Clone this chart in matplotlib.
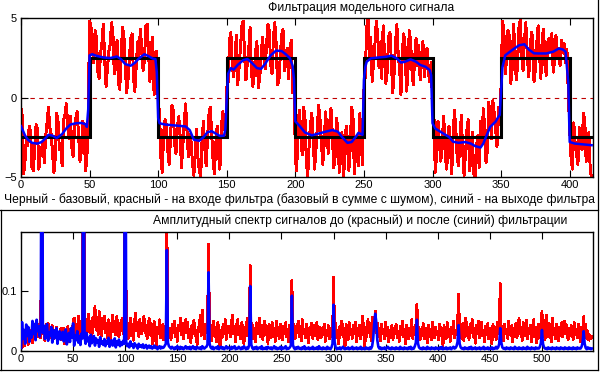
import matplotlib
matplotlib.use("Agg")
import matplotlib.pyplot as plt
from matplotlib.lines import Line2D

# ---------------- data: top panel ----------------
base_edges = [0, 50, 100, 150, 200, 250, 300, 350, 400, 417]
base_levels = [-2.5, 2.5, -2.5, 2.5, -2.5, 2.5, -2.5, 2.5, -2.5]

noisy = [
    # 0-49
    -0.7, -1.2, -4.8, -3.9, -2.6, -3.0, -1.8, -2.2, -4.4, -4.6, -3.1, -1.7, -2.0, -4.5, -3.6, -3.2, -2.8, -4.1, -2.4, -1.6,
    -0.6, -1.9, -2.3, -3.5, -4.7, -3.8, -1.0, -1.5, -3.3, -2.9, -4.3, -1.4, -1.1, -0.4, -1.6, -2.6, -1.2, -3.1, -3.7, -2.0,
    -1.3, -0.9, -2.5, -4.0, -3.4, -1.5, -1.8, -4.6, -3.9, -1.0,
    # 50-99
    4.8, 4.5, 3.0, 2.2, 4.2, 3.8, 1.6, 1.2, 2.8, 3.4, 4.6, 2.4, 0.7, 1.8, 2.9, 3.3, 4.7, 4.1, 1.5, 2.0,
    3.6, 0.9, 0.5, 2.7, 4.4, 3.9, 2.1, 0.3, 1.1, 2.5, 3.7, 4.0, 1.3, 0.4, 1.9, 3.5, 2.6, 4.3, 3.1, 1.7,
    2.3, 4.5, 4.6, 2.8, 1.0, 3.2, 3.8, 0.2, 1.4, 2.9,
    # 100-149
    -0.3, -0.9, -3.8, -4.7, -2.2, -1.4, -1.7, -3.3, -4.2, -2.6, -0.5, -0.8, -2.9, -3.5, -1.9, -1.2, -2.4, -4.4, -3.0, -1.6,
    -0.4, -2.1, -3.7, -2.3, -2.8, -4.1, -4.9, -3.4, -2.0, -3.8, -4.6, -5.0, -2.7, -1.5, -3.2, -4.3, -2.5, -1.1, -0.6, -2.2,
    -3.9, -4.8, -2.9, -1.8, -3.6, -4.5, -2.0, -0.9, -1.3, -2.4,
    # 150-199
    0.6, 1.0, 3.6, 4.1, 2.0, 1.3, 2.5, 3.9, 0.8, 1.9, 3.2, 4.5, 4.8, 2.6, 1.1, 2.2, 3.0, 4.4, 1.6, 0.7,
    1.4, 2.9, 3.5, 0.6, 1.2, 2.4, 3.8, 2.7, 1.8, 3.3, 4.6, 4.2, 2.1, 1.5, 3.7, 4.7, 3.4, 0.8, 1.0, 2.6,
    3.9, 4.3, 1.7, 2.3, 3.1, 1.2, 2.8, 3.6, 0.3, 1.9,
    # 200-249
    -3.9, -4.6, -1.5, -0.8, -2.3, -3.6, -0.6, -1.2, -4.0, -5.0, -3.1, -1.7, -1.0, -2.6, -4.5, -3.3, -1.9, -0.5, -1.4, -2.8,
    -4.2, -3.0, -0.9, -2.1, -3.5, -1.6, -0.7, -2.4, -4.4, -3.7, -1.3, -2.0, -4.7, -3.9, -2.2, -4.9, -4.1, -1.8, -2.7, -4.6,
    -3.2, -0.6, -1.1, -4.8, -3.4, -2.5, -4.3, -1.0, -2.9, -4.2,
    # 250-299
    0.5, 1.4, 4.4, 4.9, 2.6, 3.8, 1.0, 2.2, 3.3, 4.8, 4.0, 1.9, 3.5, 1.2, 4.5, 2.8, 0.9, 1.6, 3.8, 4.1,
    2.3, 0.3, 1.5, 3.4, 4.6, 2.7, 1.8, 0.2, 2.9, 4.0, 3.2, 0.4, 1.3, 4.2, 3.6, 1.7, 0.8, 2.5, 3.7, 2.0,
    3.3, 1.1, 2.4, 3.5, 1.3, 2.1, 3.1, 1.6, 1.0, 2.2,
    # 300-349
    -0.4, -1.0, -4.7, -3.6, -1.5, -2.8, -4.0, -3.2, -1.2, -2.3, -4.5, -3.9, -1.8, -3.0, -4.8, -2.5, -0.8, -2.0, -3.8, -4.3,
    -2.7, -1.1, -3.4, -4.9, -3.6, -2.1, -1.4, -4.6, -3.9, -2.2, -4.8, -5.0, -3.1, -2.4, -4.4, -1.5, -2.9, -0.7, -1.8, -4.1,
    -3.3, -0.3, -1.2, -2.6, -0.2, -1.0, -2.0, -3.1, -0.6, -1.7,
    # 350-399
    0.8, 4.8, 4.3, 1.5, 2.4, 4.2, 3.9, 0.9, 1.7, 4.6, 3.3, 1.1, 2.0, 4.4, 4.9, 2.8, 1.7, 3.6, 4.7, 3.0,
    1.3, 2.2, 4.1, 3.8, 1.0, 1.8, 3.4, 4.5, 2.7, 1.2, 3.9, 4.3, 2.0, 1.4, 3.5, 3.7, 2.9, 4.0, 1.6, 2.3,
    3.9, 2.6, 3.1, 2.0, 3.6, 2.8, 3.4, 2.2, 3.0, 0.2,
    # 400-416
    -2.0, -3.8, -4.5, -1.6, -2.9, -3.6, -4.2, -1.9, -2.4, -3.3, -1.0, -1.4, -4.0, -3.1, -2.2, -4.6, -5.0,
]

filt_x = [0, 3, 5, 8, 12, 15, 18, 20, 23, 26, 30, 33, 36, 40, 44, 47, 48, 49,
          50, 52, 55, 60, 65, 70, 73, 76, 80, 83, 86, 90, 93, 96, 98, 99,
          100, 101, 105, 110, 115, 120, 123, 126, 130, 133, 136, 139, 142, 145, 148, 149,
          150, 151, 153, 155, 158, 162, 165, 168, 172, 175, 178, 182, 186, 190, 193, 196, 198, 199,
          200, 203, 207, 212, 217, 222, 227, 231, 234, 238, 241, 244, 246, 249,
          250, 251, 252, 255, 261, 266, 270, 274, 277, 280, 284, 288, 291, 295, 298, 299,
          300, 302, 307, 312, 315, 319, 324, 328, 331, 335, 337, 340, 342, 346, 348, 349,
          350, 351, 353, 358, 363, 367, 370, 374, 377, 383, 388, 392, 395, 397, 399,
          400, 404, 411, 416]
filt_y = [-1.8, -2.4, -2.65, -2.85, -2.9, -2.8, -2.55, -2.35, -2.4, -2.55, -2.3, -1.95, -1.7, -1.62, -1.6, -1.68, -1.85, -0.75,
          2.65, 2.72, 2.62, 2.52, 2.48, 2.58, 2.4, 2.1, 2.0, 2.18, 2.46, 2.72, 2.6, 2.45, 2.42, 1.6,
          -1.3, -1.62, -1.7, -1.74, -1.78, -1.82, -2.05, -2.65, -2.72, -2.5, -2.18, -2.12, -2.27, -2.42, -2.4, -2.0,
          0.0, 1.5, 1.85, 1.75, 2.05, 2.35, 2.42, 2.2, 1.85, 1.8, 2.12, 2.65, 2.95, 2.92, 2.72, 2.48, 2.0, 1.15,
          -1.5, -1.78, -2.2, -2.38, -2.27, -2.15, -2.05, -2.15, -2.48, -2.85, -2.8, -2.48, -2.22, -2.35,
          1.1, 1.92, 2.25, 2.46, 2.52, 2.56, 2.63, 2.46, 2.2, 2.25, 2.4, 2.25, 2.05, 1.93, 1.72, 1.4,
          -1.62, -1.95, -2.22, -2.48, -2.78, -2.85, -2.8, -2.9, -3.05, -3.15, -2.9, -2.27, -1.85, -1.52, -1.22, -1.1,
          0.45, 1.9, 2.65, 2.98, 3.28, 3.35, 3.03, 2.78, 2.77, 2.77, 2.88, 3.08, 3.02, 2.88, 0.9,
          -2.8, -2.9, -2.96, -3.0]

top_xticks = [0, 50, 100, 150, 200, 250, 300, 350, 400]
top_yticks = [-5, 0, 5]

# ---------------- data: bottom panel (amplitude spectra) ----------------
spec_in = [
    .003, .012, .018, .008, .022, .015, .030, .011, .025, .019, .034, .014, .028, .040, .020, .036, .024, .045, .030, .022,
    .640, .028, .038, .017, .044, .032, .046, .021, .039, .027, .042, .019, .035, .026, .040, .013, .031, .024, .037, .018,
    .029, .038, .012, .033, .025, .041, .016, .036, .028, .022, .048, .055, .030, .044, .024, .058, .035, .027, .049, .033,
    .620, .038, .052, .026, .045, .061, .031, .048, .020, .056, .040, .074, .035, .050, .028, .066, .042, .025, .054, .037,
    .058, .030, .046, .022, .052, .036, .019, .044, .060, .032, .049, .027, .057, .038, .023, .046, .034, .055, .029, .041,
    .600, .030, .047, .021, .039, .055, .026, .044, .018, .050, .063, .033, .042, .024, .052, .036, .028, .047, .058, .031,
    .043, .020, .038, .054, .027, .046, .012, .035, .049, .024, .008, .040, .030, .052, .022, .037, .044, .018, .033, .028,
    .210, .041, .026, .035, .019, .044, .030, .050, .023, .038, .016, .042, .034, .055, .027, .046, .021, .039, .052, .030,
    .048, .022, .036, .014, .043, .029, .051, .025, .034, .011, .040, .032, .060, .026, .068, .035, .020, .045, .031, .038,
    .178, .028, .042, .017, .036, .050, .024, .039, .015, .047, .030, .006, .034, .022, .045, .028, .052, .019, .037, .041,
    .033, .024, .046, .060, .029, .038, .016, .043, .052, .027, .035, .020, .048, .031, .012, .040, .026, .055, .033, .022,
    .142, .030, .044, .021, .038, .015, .047, .028, .036, .055, .024, .042, .019, .033, .050, .027, .040, .013, .045, .032,
    .022, .048, .030, .037, .016, .050, .026, .039, .021, .044, .034, .018, .041, .028, .047, .023, .036, .015, .043, .031,
    .118, .026, .045, .020, .038, .030, .050, .024, .041, .017, .052, .029, .036, .022, .044, .031, .014, .039, .027, .046,
    .021, .035, .043, .025, .048, .018, .033, .040, .022, .037, .028, .045, .016, .034, .026, .042, .020, .031, .038, .024,
    .123, .030, .046, .022, .035, .012, .041, .028, .050, .024, .038, .006, .044, .031, .019, .047, .027, .036, .021, .042,
    .029, .048, .016, .037, .025, .043, .020, .034, .058, .028, .007, .039, .024, .052, .031, .045, .018, .056, .036, .041,
    .066, .030, .046, .023, .038, .017, .044, .029, .036, .020, .048, .026, .040, .015, .034, .027, .043, .019, .037, .030,
    .045, .022, .033, .016, .041, .027, .050, .024, .036, .012, .043, .030, .020, .038, .026, .052, .021, .035, .028, .044,
    .078, .027, .040, .018, .034, .025, .046, .020, .038, .029, .014, .043, .024, .036, .019, .048, .030, .022, .040, .027,
    .033, .018, .045, .026, .038, .009, .042, .031, .020, .047, .025, .036, .016, .040, .028, .050, .022, .034, .027, .043,
    .095, .029, .038, .021, .046, .017, .035, .055, .026, .040, .019, .044, .030, .053, .024, .037, .013, .042, .028, .050,
    .022, .036, .048, .025, .033, .015, .041, .027, .046, .020, .038, .031, .012, .044, .026, .035, .019, .047, .029, .040,
    .112, .024, .039, .017, .045, .028, .036, .021, .050, .030, .026, .042, .015, .037, .027, .046, .022, .034, .055, .029,
    .040, .018, .047, .025, .036, .051, .020, .038, .028, .043, .016, .035, .052, .024, .039, .013, .031, .045, .022, .036,
    .066, .028, .041, .019, .060, .033, .024, .046, .030, .015, .055, .027, .038, .021, .044, .031, .017, .040, .026, .047,
    .023, .036, .050, .028, .042, .018, .034, .025, .043, .032, .019, .047, .027, .036, .022, .045, .030, .016, .039, .026,
    .057, .030, .044, .021, .033, .018, .026, .020, .024,
]

spec_out = [
    .005, .048, .020, .035, .012, .044, .025, .040, .015, .032, .022, .050, .028, .045, .018, .052, .033, .041, .024, .038,
    .630, .030, .042, .020, .036, .045, .017, .031, .026, .040, .014, .035, .021, .030, .038, .012, .027, .033, .019, .024,
    .032, .016, .028, .036, .011, .024, .030, .015, .038, .022, .046, .009, .026, .018, .033, .014, .025, .010, .029, .021,
    .610, .024, .012, .030, .016, .022, .008, .027, .013, .019, .025, .009, .021, .014, .018, .007, .023, .012, .016, .010,
    .020, .008, .017, .012, .022, .007, .015, .018, .009, .013, .021, .006, .016, .011, .019, .008, .014, .010, .017, .012,
    .600, .014, .008, .012, .006, .016, .009, .011, .005, .013, .008, .010, .004, .012, .007, .009, .006, .011, .005, .008,
    .010, .004, .007, .009, .005, .008, .004, .006, .009, .005, .007, .003, .006, .008, .004, .007, .005, .006, .009, .012,
    .168, .014, .008, .006, .004, .007, .005, .003, .006, .004, .008, .005, .003, .007, .004, .006, .003, .005, .008, .004,
    .006, .004, .007, .003, .005, .008, .004, .006, .003, .007, .005, .004, .006, .003, .008, .005, .004, .006, .007, .011,
    .131, .012, .006, .004, .007, .003, .005, .006, .004, .008, .003, .005, .007, .004, .006, .003, .005, .008, .004, .006,
    .005, .003, .007, .004, .006, .008, .003, .005, .004, .007, .005, .003, .006, .004, .008, .005, .003, .006, .004, .010,
    .108, .011, .005, .003, .006, .004, .007, .003, .005, .006, .004, .008, .003, .005, .004, .006, .003, .007, .005, .004,
    .006, .003, .005, .008, .004, .006, .003, .005, .004, .007, .003, .006, .004, .005, .008, .003, .005, .004, .006, .009,
    .092, .010, .005, .003, .006, .004, .007, .004, .005, .003, .006, .004, .008, .003, .005, .004, .006, .003, .005, .004,
    .007, .003, .005, .004, .006, .003, .008, .004, .005, .003, .006, .004, .005, .003, .007, .004, .005, .003, .006, .012,
    .077, .015, .006, .003, .005, .004, .006, .003, .005, .007, .004, .003, .005, .004, .006, .003, .005, .004, .007, .003,
    .005, .004, .006, .003, .005, .004, .007, .003, .005, .004, .003, .006, .004, .005, .003, .006, .004, .008, .020, .045,
    .062, .048, .018, .007, .004, .006, .003, .005, .004, .006, .003, .005, .007, .004, .005, .003, .006, .004, .005, .003,
    .006, .004, .005, .003, .007, .004, .005, .003, .006, .004, .005, .003, .006, .004, .007, .003, .005, .004, .008, .014,
    .052, .013, .006, .004, .005, .003, .006, .004, .005, .003, .007, .004, .005, .003, .006, .004, .005, .003, .006, .004,
    .005, .003, .006, .004, .007, .003, .005, .004, .006, .003, .005, .004, .006, .003, .005, .007, .004, .005, .008, .015,
    .043, .012, .006, .004, .005, .003, .006, .004, .005, .003, .006, .004, .007, .003, .005, .004, .006, .003, .005, .004,
    .006, .003, .005, .004, .007, .003, .005, .004, .006, .003, .005, .004, .006, .003, .005, .004, .007, .004, .006, .012,
    .038, .014, .006, .004, .005, .003, .006, .004, .005, .003, .006, .004, .005, .003, .007, .004, .005, .003, .006, .004,
    .005, .003, .006, .004, .005, .003, .007, .004, .005, .003, .006, .004, .005, .003, .006, .004, .005, .004, .007, .013,
    .035, .012, .006, .004, .005, .003, .006, .004, .005, .003, .006, .004, .005, .003, .006, .004, .005, .003, .006, .004,
    .005, .003, .006, .004, .005, .003, .006, .004, .005, .003, .006, .004, .005, .003, .006, .004, .005, .004, .007, .014,
    .033, .012, .005, .003, .006, .004, .005, .003, .004,
]

spec_xticks = [0, 50, 100, 150, 200, 250, 300, 350, 400, 450, 500]
spec_yticks = [0, 0.1]
spec_yticklabels = ["0", "0.1"]

title_top = "Фильтрация модельного сигнала"
caption = ("Черный - базовый, красный - на входе фильтра (базовый в сумме с шумом), "
           "синий - на выходе фильтра")
title_bottom = "Амплитудный спектр сигналов до (красный) и после (синий) фильтрации"

# ---------------- drawing ----------------
W, H = 602, 373
plt.rcParams['font.family'] = ['Liberation Sans', 'DejaVu Sans']
FS_TICK = 8
FS_TEXT = 8.7
fig = plt.figure(figsize=(W / 100, H / 100), dpi=100)


def px_rect(left, top, right, bottom):
    return [left / W, 1 - bottom / H, (right - left) / W, (bottom - top) / H]


def style_axes(ax):
    for s in ax.spines.values():
        s.set_linewidth(1.0)
        s.set_color('black')
    ax.tick_params(axis='x', direction='in', top=True, bottom=True, length=5,
                   width=0.8, labelsize=FS_TICK, pad=2)
    ax.tick_params(axis='y', direction='in', left=True, right=False, length=5,
                   width=0.8, labelsize=FS_TICK, pad=3)


RED = '#ff0000'
BLUE = '#0000ff'

# top panel
ax1 = fig.add_axes(px_rect(21, 18, 593, 177))
ax1.axhline(0, color='#c00000', lw=0.8, ls=(0, (4, 4)), zorder=1)
ax1.plot(range(len(noisy)), noisy, color=RED, lw=1.4, zorder=2, antialiased=False)
ax1.stairs(base_levels, base_edges, baseline=None, color='black', lw=2.2, zorder=3)
ax1.plot(filt_x, filt_y, color=BLUE, lw=1.8, zorder=4)
ax1.set_xlim(0, 417)
ax1.set_ylim(-5, 5)
ax1.set_xticks(top_xticks)
ax1.set_yticks(top_yticks)
style_axes(ax1)

# bottom panel
ax2 = fig.add_axes(px_rect(21, 232, 593, 351))
ax2.plot(range(len(spec_in)), spec_in, color=RED, lw=1.3, zorder=2, antialiased=False)
ax2.plot(range(len(spec_out)), spec_out, color=BLUE, lw=1.9, zorder=3)
ax2.set_xlim(0, 549)
ax2.set_ylim(0, 0.198)
ax2.set_xticks(spec_xticks)
ax2.set_yticks(spec_yticks)
ax2.set_yticklabels(spec_yticklabels)
style_axes(ax2)

# texts
fig.text(361 / W, 1 - 8 / H, title_top, ha='center', va='center', fontsize=FS_TEXT)
fig.text(300 / W, 1 - 200 / H, caption, ha='center', va='center', fontsize=FS_TEXT)
fig.text(360 / W, 1 - 221 / H, title_bottom, ha='center', va='center', fontsize=FS_TEXT)


# panel frame lines (pixel coordinates)
def fig_line(x0, y0, x1, y1):
    fig.add_artist(Line2D([x0 / W, x1 / W], [1 - y0 / H, 1 - y1 / H],
                          transform=fig.transFigure, color='black', lw=0.9))


fig_line(597.5, 0, 597.5, 369.5)
fig_line(0, 209.5, 597.5, 209.5)
fig_line(0.5, 209.5, 0.5, 369.5)
fig_line(0, 369.5, 597.5, 369.5)

fig.savefig('out.png', dpi=100, facecolor='white')
